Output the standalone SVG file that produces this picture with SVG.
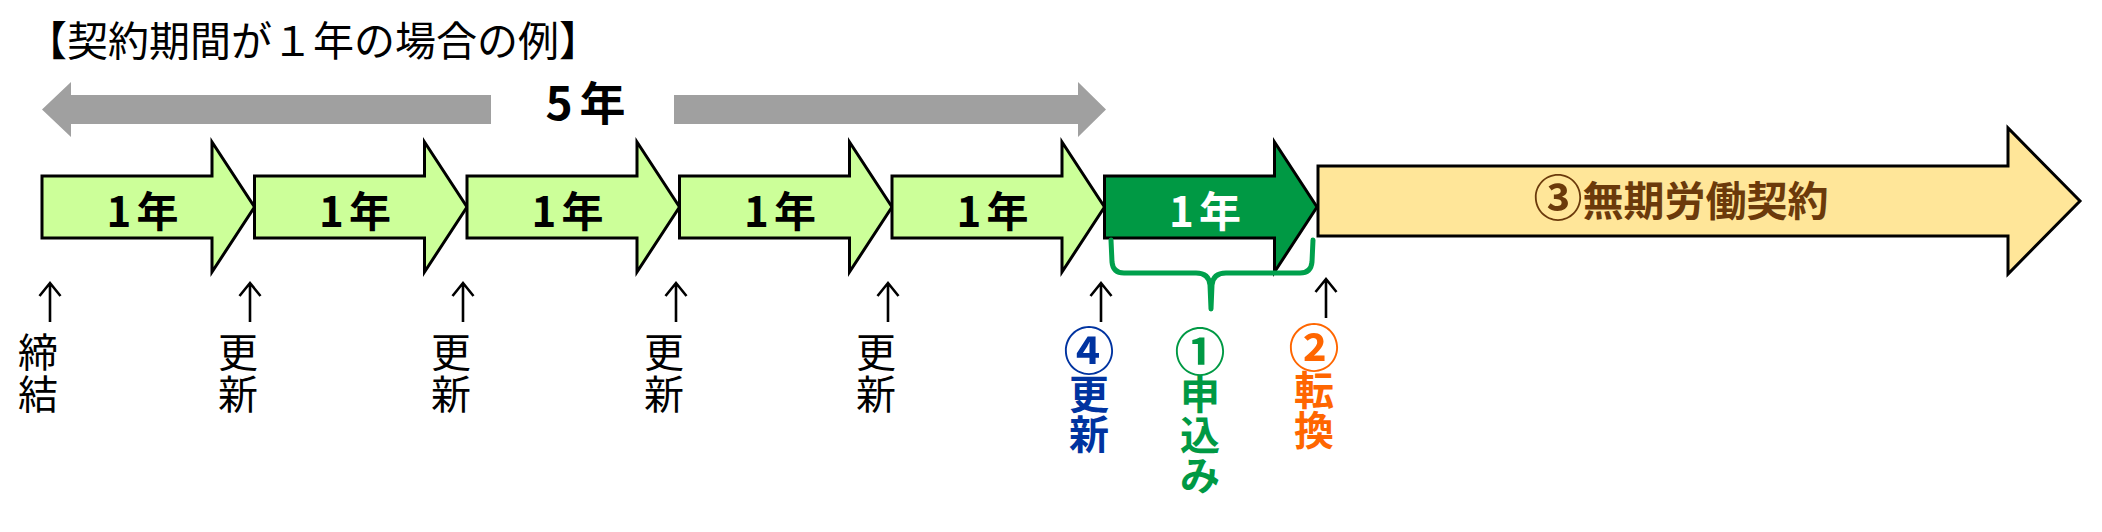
<svg xmlns="http://www.w3.org/2000/svg" width="2102" height="532" viewBox="0 0 2102 532">
<style>
.jp{font-family:"Noto Sans CJK JP","Noto Sans CJK SC",sans-serif}
.thin{font-size:40px;font-weight:400;fill:#000;text-anchor:middle}
.yr{font-size:42px;font-weight:700;text-anchor:middle;letter-spacing:5px}
.lbl{font-size:40px;font-weight:700;text-anchor:middle}
.circ{font-size:51px;font-weight:700}
.arr{stroke:#000;stroke-width:3;stroke-linejoin:miter}
.light{fill:#CCFF99}
.up{fill:none;stroke:#000;stroke-width:2.6;stroke-linecap:butt}
</style>
<defs>
<path id="uparrow" d="M0,0 V39 M-10.5,13 L0,0 L10.5,13"/>
</defs>
<rect width="2102" height="532" fill="#fff"/>
<text id="title" class="jp" x="26" y="56" font-size="41">【契約期間が１年の場合の例】</text>

<g id="span-5years">
<polygon points="42,109.5 71,82 71,95 491,95 491,124 71,124 71,137" fill="#A0A0A0"/>
<polygon points="674,95 1078,95 1078,82 1106,109.5 1078,137 1078,124 674,124" fill="#A0A0A0"/>
<text class="jp" x="589" y="120" font-size="46" font-weight="700" text-anchor="middle" letter-spacing="7">5年</text>
</g>

<g id="year1">
<polygon class="arr light" points="42,176 212,176 212,142 254.5,207 212,272 212,238 42,238"/>
<text class="jp yr" x="145" y="227">1年</text>
</g>
<g id="year2">
<polygon class="arr light" points="254.5,176 424.5,176 424.5,142 467,207 424.5,272 424.5,238 254.5,238"/>
<text class="jp yr" x="357.5" y="227">1年</text>
</g>
<g id="year3">
<polygon class="arr light" points="467,176 637,176 637,142 679.5,207 637,272 637,238 467,238"/>
<text class="jp yr" x="570" y="227">1年</text>
</g>
<g id="year4">
<polygon class="arr light" points="679.5,176 849.5,176 849.5,142 892,207 849.5,272 849.5,238 679.5,238"/>
<text class="jp yr" x="782.5" y="227">1年</text>
</g>
<g id="year5">
<polygon class="arr light" points="892,176 1062,176 1062,142 1104.5,207 1062,272 1062,238 892,238"/>
<text class="jp yr" x="995" y="227">1年</text>
</g>
<g id="year6">
<polygon class="arr" fill="#009944" points="1104.5,176 1274.5,176 1274.5,142 1317,207 1274.5,272 1274.5,238 1104.5,238"/>
<text class="jp yr" x="1207.5" y="227" fill="#fff">1年</text>
</g>
<g id="indefinite">
<polygon class="arr" fill="#FFE699" points="1318,166 2008,166 2008,128 2080,201 2008,274 2008,236 1318,236"/>
<text class="jp" x="1681" y="216" font-size="41" font-weight="700" text-anchor="middle" fill="#6B3A0B"><tspan font-size="49">③</tspan>無期労働契約</text>
</g>

<g id="connectors">
<use href="#uparrow" class="up" x="50" y="283"/>
<use href="#uparrow" class="up" x="250" y="283"/>
<use href="#uparrow" class="up" x="463" y="283"/>
<use href="#uparrow" class="up" x="676" y="283"/>
<use href="#uparrow" class="up" x="888" y="283"/>
<use href="#uparrow" class="up" x="1101" y="283"/>
<use href="#uparrow" class="up" x="1326" y="279"/>
<path d="M1111,240 L1112,262 Q1113,273 1124,273 L1196,273 Q1209,273 1210,285 L1211,309 M1211,309 L1212,285 Q1213,273 1226,273 L1300,273 Q1311,273 1312,262 L1313,240" fill="none" stroke="#00A04C" stroke-width="5" stroke-linecap="round" stroke-linejoin="round"/>
</g>

<g id="label-conclude">
<text class="jp thin" x="38" y="367">締<tspan x="38" y="409">結</tspan></text>
</g>
<g id="label-renew1">
<text class="jp thin" x="238" y="367">更<tspan x="238" y="409">新</tspan></text>
</g>
<g id="label-renew2">
<text class="jp thin" x="451" y="367">更<tspan x="451" y="409">新</tspan></text>
</g>
<g id="label-renew3">
<text class="jp thin" x="664" y="367">更<tspan x="664" y="409">新</tspan></text>
</g>
<g id="label-renew4">
<text class="jp thin" x="876" y="367">更<tspan x="876" y="409">新</tspan></text>
</g>
<g id="label-renew-final" fill="#0033A0">
<text class="jp lbl" x="1089" y="370"><tspan class="circ">④</tspan><tspan x="1089" y="409">更</tspan><tspan x="1089" y="449">新</tspan></text>
</g>
<g id="label-apply" fill="#009944">
<text class="jp lbl" x="1200" y="371"><tspan class="circ">①</tspan><tspan x="1200" y="409">申</tspan><tspan x="1200" y="450">込</tspan><tspan x="1200" y="490">み</tspan></text>
</g>
<g id="label-convert" fill="#FF6600">
<text class="jp lbl" x="1314" y="367"><tspan class="circ">②</tspan><tspan x="1314" y="405">転</tspan><tspan x="1314" y="445">換</tspan></text>
</g>
</svg>
